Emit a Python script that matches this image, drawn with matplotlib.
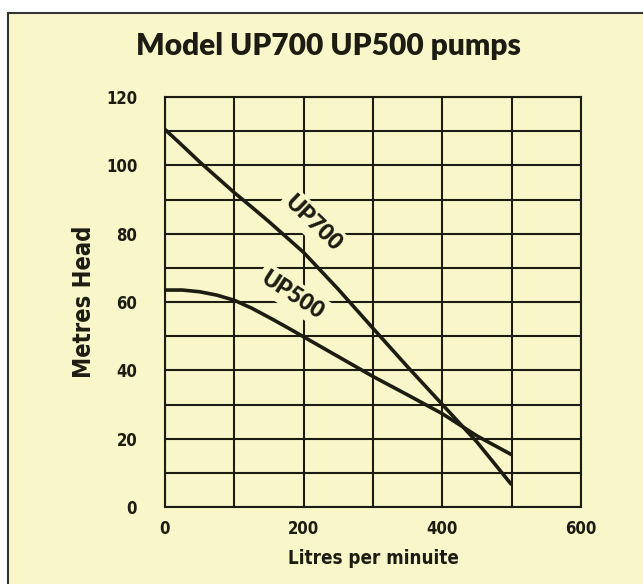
import matplotlib
matplotlib.use("Agg")
import matplotlib.pyplot as plt
from matplotlib import font_manager
from matplotlib.patches import Rectangle

# pump curves
flow = [0, 25, 50, 75, 100, 125, 150, 175, 200, 250, 300, 350, 400, 450, 500]
up700_head = [110.5, 105.8, 101, 96.5, 92, 87.8, 83.5, 79, 74.5, 63.7, 52.3, 41, 30, 19, 6.5]
up500_head = [63.5, 63.5, 63, 62, 60.5, 58.2, 55.5, 52.7, 49.8, 44, 38.2, 32.8, 27.3, 20.8, 15.3]
x_ticks = [0, 200, 400, 600]
y_ticks = [0, 20, 40, 60, 80, 100, 120]

bg = "#f9f7c9"
ink = "#1c1c12"

# a condensed bold face is closest to the original tick lettering
condensed = [f.name for f in font_manager.fontManager.ttflist
             if f.stretch in ("condensed", "semi-condensed", "extra-condensed", 75, 87)
             or "Narrow" in f.name or "Condensed" in f.name]
narrow = condensed[0] if condensed else "Lato"
stretch = "condensed" if condensed else "normal"

fig = plt.figure(figsize=(6.43, 5.84), dpi=100, facecolor="white")
frame = Rectangle((8 / 643, -0.1), 1.1, 1.1 - 13 / 584,
                  transform=fig.transFigure, facecolor=bg,
                  edgecolor="#333333", linewidth=1.5, zorder=-10)
fig.add_artist(frame)

ax = fig.add_axes([165 / 643, 1 - 507 / 584, 416 / 643, 410 / 584])
ax.set_facecolor(bg)
ax.set_xlim(0, 600)
ax.set_ylim(0, 120)
ax.set_xticks(x_ticks)
ax.set_xticks([100, 300, 500], minor=True)
ax.set_yticks(y_ticks)
ax.set_yticks(range(10, 120, 20), minor=True)
ax.grid(True, which="both", color=ink, linewidth=1.5, zorder=1)
ax.set_axisbelow(True)
for s in ax.spines.values():
    s.set_color(ink)
    s.set_linewidth(1.5)
ax.tick_params(which="both", length=0)
ax.tick_params(axis="y", pad=20)
ax.tick_params(axis="x", pad=9)
for lab in ax.get_xticklabels() + ax.get_yticklabels():
    lab.set_fontfamily(narrow)
    lab.set_fontstretch(stretch)
    lab.set_fontweight("bold")
    lab.set_fontsize(12)
    lab.set_color(ink)

ax.plot(flow, up700_head, color=ink, linewidth=2.6, zorder=4, solid_capstyle="butt")
ax.plot(flow, up500_head, color=ink, linewidth=2.6, zorder=4, solid_capstyle="butt")

box = dict(facecolor=bg, edgecolor="none", pad=3)
ax.text(214, 83, "UP700", rotation=-44, ha="center", va="center", fontsize=16,
        fontweight="heavy", family="Lato", color=ink, bbox=box, zorder=3,
        rotation_mode="anchor")
ax.text(184, 62, "UP500", rotation=-33, ha="center", va="center", fontsize=16,
        fontweight="heavy", family="Lato", color=ink, bbox=box, zorder=3,
        rotation_mode="anchor")

ax.set_xlabel("Litres per minuite", fontfamily=narrow, fontstretch=stretch,
              fontweight="bold", fontsize=13.5, color=ink, labelpad=8)
ax.set_ylabel("Metres Head", fontfamily=narrow, fontstretch=stretch,
              fontweight="bold", fontsize=17, color=ink, labelpad=7)
fig.text(328 / 643, 1 - 46 / 584, "Model UP700 UP500 pumps", ha="center",
         va="center", fontsize=21.5, fontweight="heavy", family="Lato", color=ink)

fig.savefig("out.png", dpi=100, facecolor=fig.get_facecolor())
